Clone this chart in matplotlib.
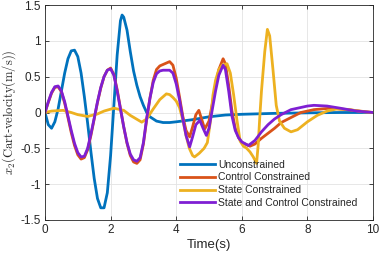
import matplotlib
matplotlib.use("Agg")
import matplotlib.pyplot as plt

# ---------------- data ----------------
t_unc = [0, 0.1, 0.2, 0.3, 0.4, 0.5, 0.6, 0.7, 0.8, 0.9, 1.0, 1.1, 1.2, 1.3, 1.4, 1.5,
         1.6, 1.7, 1.8, 1.9, 2.0, 2.1, 2.2, 2.3, 2.35, 2.4, 2.5, 2.6, 2.7, 2.8, 2.9, 3.0,
         3.1, 3.2, 3.4, 3.6, 3.8, 4.0, 4.5, 5.0, 5.5, 6.0, 7.0, 8.0, 9.0, 10.0]
v_unc = [0, -0.17, -0.22, -0.13, 0.05, 0.30, 0.55, 0.75, 0.86, 0.87, 0.78, 0.55, 0.22,
         -0.15, -0.55, -0.92, -1.20, -1.33, -1.33, -1.12, -0.60, 0.10, 0.80, 1.28, 1.36,
         1.33, 1.15, 0.85, 0.58, 0.38, 0.22, 0.10, 0.0, -0.06, -0.12, -0.14, -0.14,
         -0.13, -0.10, -0.06, -0.035, -0.025, -0.012, -0.005, 0.0, 0.0]

t_ctl = [0, 0.1, 0.2, 0.3, 0.4, 0.5, 0.6, 0.7, 0.8, 0.9, 1.0, 1.1, 1.2, 1.3, 1.4, 1.5,
         1.6, 1.7, 1.8, 1.9, 2.0, 2.1, 2.2, 2.3, 2.4, 2.5, 2.6, 2.7, 2.8, 2.9, 3.0, 3.1,
         3.2, 3.3, 3.4, 3.5, 3.6, 3.7, 3.8, 3.9, 4.0, 4.1, 4.2, 4.3, 4.41, 4.5, 4.6, 4.69,
         4.78, 4.87, 5.0, 5.1, 5.2, 5.3, 5.43, 5.5, 5.6, 5.7, 5.8, 5.9, 6.0, 6.25, 6.4,
         6.6, 6.8, 7.0, 7.2, 7.5, 7.8, 8.2, 8.7, 9.2, 9.6, 10.0]
v_ctl = [0, 0.14, 0.27, 0.35, 0.36, 0.29, 0.13, -0.07, -0.28, -0.46, -0.59, -0.65,
         -0.63, -0.52, -0.32, -0.09, 0.14, 0.34, 0.50, 0.59, 0.62, 0.53, 0.32, 0.06,
         -0.20, -0.43, -0.60, -0.69, -0.71, -0.66, -0.44, -0.10, 0.20, 0.45, 0.60, 0.65,
         0.67, 0.69, 0.71, 0.66, 0.48, 0.22, -0.05, -0.25, -0.34, -0.20, -0.03, 0.03,
         -0.10, -0.23, -0.12, 0.12, 0.38, 0.60, 0.75, 0.68, 0.38, 0.02, -0.22, -0.35,
         -0.42, -0.47, -0.44, -0.36, -0.29, -0.22, -0.14, -0.07, 0.0, 0.04, 0.06, 0.04,
         0.02, 0.0]

t_st = [0, 0.2, 0.55, 0.8, 1.0, 1.3, 1.6, 1.8, 2.1, 2.4, 2.6, 2.95, 3.1, 3.3, 3.5, 3.7,
        3.8, 3.9, 4.0, 4.1, 4.2, 4.3, 4.4, 4.5, 4.56, 4.7, 4.85, 4.95, 5.05, 5.12, 5.2,
        5.3, 5.4, 5.55, 5.65, 5.75, 5.85, 5.95, 6.05, 6.15, 6.25, 6.35, 6.45, 6.5, 6.55,
        6.6, 6.7, 6.78, 6.85, 6.95, 7.05, 7.15, 7.3, 7.5, 7.7, 8.0, 8.3, 8.6, 8.9, 9.3,
        9.7, 10.0]
v_st = [0, 0.02, 0.03, 0.0, -0.03, -0.055, -0.02, 0.02, 0.06, 0.03, -0.04, -0.135,
        -0.09, 0.05, 0.18, 0.26, 0.25, 0.21, 0.16, 0.07, -0.10, -0.32, -0.50, -0.60,
        -0.62, -0.57, -0.50, -0.42, -0.10, 0.24, 0.45, 0.60, 0.66, 0.68, 0.55, 0.25,
        -0.10, -0.40, -0.47, -0.50, -0.55, -0.62, -0.71, -0.45, -0.05, 0.30, 0.85, 1.16,
        1.07, 0.60, 0.10, -0.12, -0.22, -0.27, -0.24, -0.13, -0.04, 0.02, 0.05, 0.04,
        0.01, 0.0]

t_sc = [0, 0.1, 0.2, 0.3, 0.4, 0.5, 0.6, 0.7, 0.8, 0.9, 1.0, 1.1, 1.2, 1.3, 1.4, 1.5,
        1.6, 1.7, 1.8, 1.9, 2.0, 2.1, 2.2, 2.3, 2.4, 2.5, 2.6, 2.7, 2.8, 2.9, 3.0, 3.1,
        3.2, 3.3, 3.4, 3.5, 3.6, 3.7, 3.8, 3.9, 4.0, 4.1, 4.2, 4.3, 4.41, 4.5, 4.6, 4.72,
        4.82, 4.92, 5.0, 5.1, 5.2, 5.3, 5.43, 5.5, 5.6, 5.7, 5.8, 5.9, 6.0, 6.2, 6.4,
        6.6, 6.8, 7.0, 7.2, 7.5, 8.0, 8.2, 8.6, 9.0, 9.5, 10.0]
v_sc = [0, 0.15, 0.28, 0.36, 0.37, 0.30, 0.15, -0.05, -0.25, -0.43, -0.56, -0.62,
        -0.61, -0.50, -0.30, -0.08, 0.15, 0.35, 0.50, 0.59, 0.61, 0.52, 0.30, 0.05,
        -0.20, -0.42, -0.58, -0.66, -0.68, -0.63, -0.42, -0.08, 0.20, 0.42, 0.54, 0.58,
        0.59, 0.59, 0.59, 0.55, 0.40, 0.18, -0.08, -0.32, -0.48, -0.34, -0.17, -0.11,
        -0.22, -0.32, -0.22, 0.04, 0.30, 0.52, 0.66, 0.60, 0.30, -0.05, -0.25, -0.35,
        -0.41, -0.46, -0.39, -0.27, -0.17, -0.09, -0.03, 0.04, 0.09, 0.10, 0.09, 0.06,
        0.02, 0.0]

labels = ["Unconstrained", "Control Constrained", "State Constrained",
          "State and Control Constrained"]
colors = ["#0072BD", "#D95319", "#EDB120", "#7F1FD3"]

xticks = [0, 2, 4, 6, 8, 10]
yticks = [-1.5, -1, -0.5, 0, 0.5, 1, 1.5]
yticklabels = ["-1.5", "-1", "-0.5", "0", "0.5", "1", "1.5"]

# ---------------- figure ----------------
plt.rcParams["font.family"] = ["Liberation Sans", "DejaVu Sans"]
plt.rcParams["mathtext.fontset"] = "cm"

fig = plt.figure(figsize=(3.81, 2.54), dpi=100)
ax = fig.add_axes([45 / 381, 1 - 220 / 254, 328 / 381, 215 / 254])

series = [(t_unc, v_unc), (t_ctl, v_ctl), (t_st, v_st), (t_sc, v_sc)]
for (tt, vv), lab, col in zip(series, labels, colors):
    ax.plot(tt, vv, color=col, lw=2.0, label=lab, solid_joinstyle="round")

ax.set_xlim(0, 10)
ax.set_ylim(-1.5, 1.5)
ax.set_xticks(xticks)
ax.set_xticklabels([str(x) for x in xticks])
ax.set_yticks(yticks)
ax.set_yticklabels(yticklabels)
ax.grid(True, color="#e3e3e3", lw=0.6)
ax.set_axisbelow(True)

dark = "#262626"
for sp in ax.spines.values():
    sp.set_color(dark)
    sp.set_linewidth(0.6)
ax.tick_params(direction="in", length=3, width=0.6, colors=dark, labelsize=8.5,
               top=True, right=True, pad=3)
for lbl in ax.get_xticklabels() + ax.get_yticklabels():
    lbl.set_color(dark)

ax.set_xlabel("Time(s)", fontsize=9.5, color=dark, labelpad=2)
ax.set_ylabel(r"$x_2(\mathrm{Cart}$-$\mathrm{velocity(m/s))}$", fontsize=9,
              color=dark, labelpad=2)

leg = ax.legend(loc="upper left", bbox_to_anchor=(0.412, 0.281), frameon=False,
                fontsize=7.5, handlelength=3.37, handletextpad=0.29, labelspacing=0.27,
                borderpad=0, borderaxespad=0)
for txt in leg.get_texts():
    txt.set_color(dark)

fig.savefig("out.png", dpi=100)
